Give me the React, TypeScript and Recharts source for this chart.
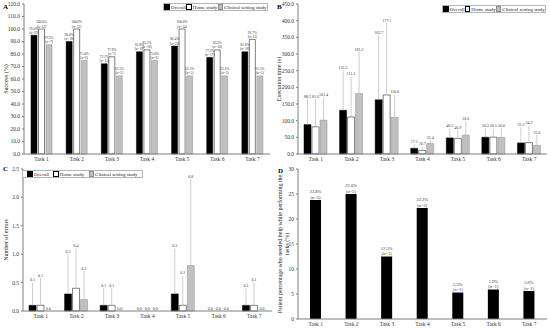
import React from "react";
import { BarChart, Bar, XAxis, YAxis, LabelList, Legend } from "recharts";

const tasks = ["Task 1", "Task 2", "Task 3", "Task 4", "Task 5", "Task 6", "Task 7"];
const seriesNames = ["Overall", "Home study", "Clinical setting study"];
const seriesKeys = ["overall", "home", "clinical"];
const seriesFill = ["#000000", "#ffffff", "#c0c0c0"];
const seriesStroke = ["#000000", "#000000", "#8c8c8c"];

// A - success
const successOverall = [95.0, 90.0, 72.2, 81.8, 86.4, 77.3, 81.8];
const successOverallN = [19, 18, 13, 18, 19, 17, 18];
const successHome = [100.0, 100.0, 77.8, 83.3, 100.0, 83.3, 91.7];
const successHomeN = [12, 12, 7, 10, 14, 10, 11];
const successClinical = [87.5, 75.0, 62.5, 75.0, 62.5, 62.5, 62.5];
const successClinicalN = [7, 6, 5, 6, 5, 5, 5];
const successTicks = [0, 10, 20, 30, 40, 50, 60, 70, 80, 90, 100, 110, 120];

// B - execution time (mean and top of the SD whisker)
const timeOverall = [88.2, 131.2, 162.7, 17.1, 48.3, 50.3, 33.3];
const timeOverallTop = [165, 252, 357, 30, 77, 77, 80];
const timeHome = [81.6, 111.1, 177.1, 10.7, 46.9, 50.5, 34.2];
const timeHomeTop = [165, 233, 393, 22, 72, 76, 85];
const timeClinical = [101.4, 181.2, 110.0, 31.4, 56.6, 50.0, 25.6];
const timeClinicalTop = [170, 306, 178, 42, 97, 77, 57];
const timeTicks = [0, 50, 100, 150, 200, 250, 300, 350, 400, 450];

// C - number of errors
const errorsOverall = [0.1, 0.3, 0.1, 0.0, 0.3, 0.0, 0.1];
const errorsOverallTop = [0.5, 1.0, 0.4, 0.0, 1.1, 0.0, 0.4];
const errorsHome = [0.1, 0.4, 0.1, 0.0, 0.1, 0.0, 0.1];
const errorsHomeTop = [0.58, 1.1, 0.4, 0.0, 0.62, 0.0, 0.5];
const errorsClinical = [0.0, 0.2, 0.0, 0.0, 0.8, 0.0, 0.0];
const errorsClinicalTop = [0.0, 0.7, 0.0, 0.0, 2.32, 0.0, 0.0];
const errorTicks = [0, 0.5, 1, 1.5, 2, 2.5];

// D - needed help
const helpPercent = [23.8, 25.0, 12.5, 22.2, 5.3, 5.9, 5.6];
const helpN = [5, 5, 1, 2, 1, 1, 1];
const helpTicks = [0, 5, 10, 15, 20, 25, 30];

const font = "'Liberation Serif', 'Times New Roman', serif";
const axisColor = "#7f7f7f";
const frameColor = "#b4b4b4";

const successData = tasks.map((task, i) => ({
  task,
  overall: successOverall[i],
  home: successHome[i],
  clinical: successClinical[i],
  overallText: `${successOverall[i].toFixed(1)}%\n(n=${successOverallN[i]})`,
  homeText: `${successHome[i].toFixed(1)}%\n(n=${successHomeN[i]})`,
  clinicalText: `${successClinical[i].toFixed(1)}%\n(n=${successClinicalN[i]})`,
}));

const sd = (mean: number, top: number) => Math.max(0, +(top - mean).toFixed(3));

const timeData = tasks.map((task, i) => ({
  task,
  overall: timeOverall[i],
  overallSd: sd(timeOverall[i], timeOverallTop[i]),
  home: timeHome[i],
  homeSd: sd(timeHome[i], timeHomeTop[i]),
  clinical: timeClinical[i],
  clinicalSd: sd(timeClinical[i], timeClinicalTop[i]),
}));

const errorData = tasks.map((task, i) => ({
  task,
  overall: errorsOverall[i],
  overallSd: sd(errorsOverall[i], errorsOverallTop[i]),
  home: errorsHome[i],
  homeSd: sd(errorsHome[i], errorsHomeTop[i]),
  clinical: errorsClinical[i],
  clinicalSd: sd(errorsClinical[i], errorsClinicalTop[i]),
}));

const helpData = tasks.map((task, i) => ({
  task,
  help: helpPercent[i],
  helpText: `${helpPercent[i].toFixed(1)}%\n(n=${helpN[i]})`,
}));

const tickStyle = { fontSize: 5.5, fontFamily: font, fill: "#333" };
const titleStyle = { textAnchor: "middle", fontSize: 6, fontFamily: font, fill: "#222" };

const Whisker = (props: any) => {
  const { x, y, width, height } = props;
  if (!height) return null;
  const cx = x + width / 2;
  return <line x1={cx} x2={cx} y1={y} y2={y + height} stroke="#b8b8b8" strokeWidth={0.7} />;
};

const topLabel = (digits: number, size: number) => (props: any) => {
  const { x, y, width, value } = props;
  const lines = typeof value === "number" ? [value.toFixed(digits)] : String(value).split("\n");
  const lh = size + 0.6;
  const cx = x + width / 2;
  return (
    <text x={cx} y={y - 1.5 - (lines.length - 1) * lh} textAnchor="middle" fontSize={size} fontFamily={font} fill="#333">
      {lines.map((l, i) => (
        <tspan key={i} x={cx} dy={i === 0 ? 0 : lh}>{l}</tspan>
      ))}
    </text>
  );
};

const LegendBox = () => (
  <div style={{ border: `0.6px solid ${frameColor}`, background: "#fff", fontFamily: font, fontSize: 5, color: "#222", display: "flex", justifyContent: "space-evenly", alignItems: "center", height: 8, whiteSpace: "nowrap", boxSizing: "border-box" }}>
    {seriesNames.map((name, i) => (
      <span key={name} style={{ display: "inline-flex", alignItems: "center" }}>
        <span style={{ display: "inline-block", width: 3.5, height: 3.5, marginRight: 1, background: seriesFill[i], border: `0.5px solid ${seriesStroke[i]}` }} />
        {name}
      </span>
    ))}
  </div>
);

const Frame = () => [
  <XAxis key="ft" xAxisId="top" orientation="top" dataKey="task" tick={false} tickLine={false} height={0} stroke={frameColor} />,
  <YAxis key="fr" yAxisId="right" orientation="right" tick={false} tickLine={false} width={0} stroke={frameColor} />,
];

const taskAxis = () => (
  <XAxis dataKey="task" tick={tickStyle} tickLine={false} tickSize={2} tickMargin={1} height={9} stroke={axisColor} interval={0} />
);

const sdBars = (digits: number) =>
  seriesKeys.flatMap((k, s) => [
    <Bar key={k} dataKey={k} name={seriesNames[s]} stackId={k} fill={seriesFill[s]} stroke={seriesStroke[s]} strokeWidth={0.5} isAnimationActive={false} />,
    <Bar key={k + "Sd"} dataKey={k + "Sd"} stackId={k} legendType="none" shape={Whisker} isAnimationActive={false}>
      <LabelList dataKey={k} content={topLabel(digits, 4)} />
    </Bar>,
  ]);

const PanelLetter = ({ letter, left, top }: { letter: string; left: number; top: number }) => (
  <div style={{ position: "absolute", left, top, fontFamily: font, fontWeight: "bold", fontSize: 7 }}>{letter}</div>
);

export default function App() {
  return (
    <div style={{ position: "absolute", left: 0, top: 0, width: 550, height: 329, background: "#fff", overflow: "hidden" }}>
      <div style={{ position: "absolute", left: 0, top: 0 }}>
        <BarChart width={275} height={165} data={successData} margin={{ top: 4, right: 5, left: 4, bottom: 2 }} barSize={6} barGap={1.5}>
          {Frame()}
          {taskAxis()}
          <YAxis domain={[0, 120]} ticks={successTicks} tick={tickStyle} tickSize={2} width={20} stroke={axisColor} tickFormatter={(v: number) => v.toFixed(1)}
            label={{ value: "Success (%)", angle: -90, position: "insideLeft", offset: 2, style: titleStyle }} />
          <Legend layout="horizontal" verticalAlign="middle" align="center" content={LegendBox} wrapperStyle={{ left: 163, top: 3, width: 105 }} />
          {seriesKeys.map((k, s) => (
            <Bar key={k} dataKey={k} name={seriesNames[s]} fill={seriesFill[s]} stroke={seriesStroke[s]} strokeWidth={0.5} isAnimationActive={false}>
              <LabelList dataKey={k + "Text"} content={topLabel(1, 3.5)} />
            </Bar>
          ))}
        </BarChart>
      </div>

      <div style={{ position: "absolute", left: 275, top: 0 }}>
        <BarChart width={275} height={165} data={timeData} margin={{ top: 4, right: 3, left: 2, bottom: 2 }} barSize={7} barGap={1}>
          {Frame()}
          {taskAxis()}
          <YAxis domain={[0, 450]} ticks={timeTicks} tick={tickStyle} tickSize={2} width={21} stroke={axisColor} tickFormatter={(v: number) => v.toFixed(1)}
            label={{ value: "Execution time (s)", angle: -90, position: "insideLeft", offset: 2, style: titleStyle }} />
          <Legend layout="horizontal" verticalAlign="middle" align="center" content={LegendBox} wrapperStyle={{ left: 167, top: 5, width: 104 }} />
          {sdBars(1)}
        </BarChart>
      </div>

      <div style={{ position: "absolute", left: 0, top: 160 }}>
        <BarChart width={275} height={169} data={errorData} margin={{ top: 9, right: 3, left: 4, bottom: 9 }} barSize={7} barGap={1}>
          {Frame()}
          {taskAxis()}
          <YAxis domain={[0, 2.5]} ticks={errorTicks} tick={tickStyle} tickSize={2} width={19} stroke={axisColor} tickFormatter={(v: number) => v.toFixed(1)}
            label={{ value: "Number of errors", angle: -90, position: "insideLeft", offset: 2, style: titleStyle }} />
          <Legend layout="horizontal" verticalAlign="middle" align="center" content={LegendBox} wrapperStyle={{ left: 22, top: 10, width: 121 }} />
          {sdBars(1)}
        </BarChart>
      </div>

      <div style={{ position: "absolute", left: 275, top: 160 }}>
        <BarChart width={275} height={169} data={helpData} margin={{ top: 9, right: 3, left: 2, bottom: 1 }} barSize={11}>
          {taskAxis()}
          <YAxis domain={[0, 30]} ticks={helpTicks} tick={tickStyle} tickSize={2} width={21} stroke={axisColor} />
          <Bar dataKey="help" fill="#000" isAnimationActive={false}>
            <LabelList dataKey="helpText" content={topLabel(1, 4.5)} />
          </Bar>
        </BarChart>
        <div style={{ position: "absolute", left: -76, top: 77, width: 170, height: 14, transform: "rotate(-90deg)", fontFamily: font, fontSize: 6, lineHeight: "7px", textAlign: "center", color: "#222", whiteSpace: "nowrap" }}>
          Patient percentage who needed help while performing the<br />tasks (%)
        </div>
      </div>

      <PanelLetter letter="A" left={3} top={3} />
      <PanelLetter letter="B" left={277} top={3} />
      <PanelLetter letter="C" left={3} top={165} />
      <PanelLetter letter="D" left={278} top={167} />
    </div>
  );
}
